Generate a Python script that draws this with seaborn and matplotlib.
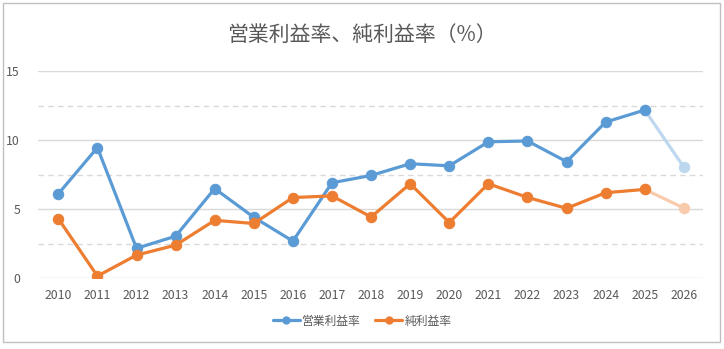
import numpy as np
import pandas as pd
import matplotlib
matplotlib.use("Agg")
import matplotlib.pyplot as plt
import seaborn as sns
from matplotlib.patches import Rectangle
from matplotlib.lines import Line2D

years = list(range(2010, 2027))
op_margin = [6.1, 9.45, 2.15, 3.03, 6.48, 4.4, 2.67, 6.9, 7.43, 8.28, 8.13, 9.87, 9.93, 8.43, 11.3, 12.17, 8.03]
net_margin = [4.3, 0.14, 1.66, 2.38, 4.18, 3.95, 5.83, 5.95, 4.42, 6.83, 4.02, 6.83, 5.84, 5.05, 6.18, 6.42, 5.07]
series_names = ["営業利益率", "純利益率"]
title = "営業利益率、純利益率（%）"

sns.set_style("white")
plt.rcParams["font.family"] = ["Noto Sans CJK JP", "DejaVu Sans"]

blue, orange = "#5B9BD5", "#ED7D31"
blue_l, orange_l = "#BDD7EE", "#F8CBAD"
txt = "#595959"

fig = plt.figure(figsize=(7.24, 3.49), dpi=100)
fig.patch.set_facecolor("white")
fig.add_artist(Rectangle((3/724, 1 - 342/349), 717/724, 339/349, transform=fig.transFigure,
                         fill=False, edgecolor="#BFBFBF", linewidth=1))
ax = fig.add_axes([38/724, 1 - 278/349, 665/724, 207/349])

df = pd.DataFrame({"year": years, "op": op_margin, "net": net_margin})
main = df[df.year <= 2025]
fc = df[df.year >= 2025]

lw, ms = 2.3, 7.5
sns.lineplot(data=fc, x="year", y="op", ax=ax, color=blue_l, lw=lw, marker="o", ms=ms, mec=blue_l, zorder=2)
sns.lineplot(data=fc, x="year", y="net", ax=ax, color=orange_l, lw=lw, marker="o", ms=ms, mec=orange_l, zorder=2)
sns.lineplot(data=main, x="year", y="op", ax=ax, color=blue, lw=lw, marker="o", ms=ms, mec=blue, zorder=3)
sns.lineplot(data=main, x="year", y="net", ax=ax, color=orange, lw=lw, marker="o", ms=ms, mec=orange, zorder=3)

ax.set_xlim(2010 - 0.52, 2026 + 0.49)
ax.set_ylim(0, 15)
ax.set_xticks(years)
ax.set_xticklabels([str(y) for y in years])
ax.set_yticks([0, 5, 10, 15])
for v in [0, 5, 10, 15]:
    ax.axhline(v, color="#D9D9D9", lw=1, zorder=0)
for v in [2.5, 7.5, 12.5]:
    ax.axhline(v, color="#D9D9D9", lw=1, ls=(0, (4, 3)), zorder=0)
for s in ax.spines.values():
    s.set_visible(False)
ax.set_xlabel("")
ax.set_ylabel("")
ax.tick_params(axis="both", length=0, colors=txt, labelsize=8.8)
ax.tick_params(axis="y", pad=13)
ax.tick_params(axis="x", pad=8)

fig.text(0.5, 1 - 35/349, title, ha="center", va="center", fontsize=15, color=txt)

handles = [Line2D([0], [0], color=blue, lw=lw, marker="o", ms=5),
           Line2D([0], [0], color=orange, lw=lw, marker="o", ms=5)]
fig.legend(handles, series_names, loc="center", bbox_to_anchor=(0.5, 1 - 321/349), ncol=2,
           frameon=False, fontsize=8.5, labelcolor=txt, handlelength=2.3, handletextpad=0.2,
           columnspacing=1.2)

fig.savefig("out.png", dpi=100)
